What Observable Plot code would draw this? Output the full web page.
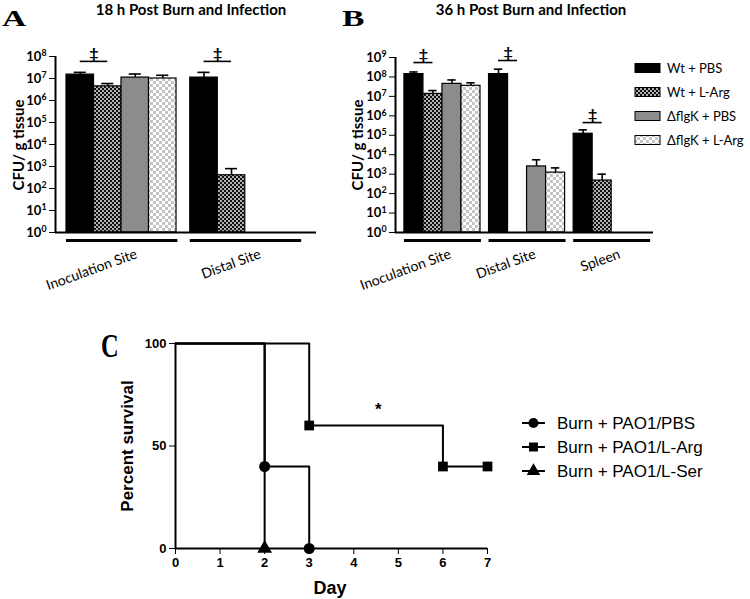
<!DOCTYPE html>
<html><head><meta charset="utf-8">
<script src="https://cdn.jsdelivr.net/npm/d3@7"></script>
<script src="https://cdn.jsdelivr.net/npm/@observablehq/plot@0.6"></script>
<style>
body{margin:0;background:#fff;}
#root{position:relative;width:750px;height:599px;overflow:hidden;font-family:Lato,"Open Sans",sans-serif;color:#000;}
#root svg{overflow:visible;}
.abs{position:absolute;white-space:nowrap;line-height:1;}
.letter{font-family:"Liberation Serif","DejaVu Serif",serif;font-weight:bold;}
.title{font-weight:bold;font-size:15px;transform:translate(-50%,-50%);}
.ylab{font-weight:bold;font-size:15px;transform:translate(-50%,-50%) rotate(-90deg);}
.legB{font-size:13px;display:flex;align-items:center;}
.legC{font-family:"Liberation Sans",Arial,sans-serif;font-size:17px;display:flex;align-items:center;}
</style></head><body>
<svg width="0" height="0" style="position:absolute"><defs>
<pattern id="darkChk" width="4" height="4" patternUnits="userSpaceOnUse"><rect width="4" height="4" fill="#111"/><rect width="2" height="2" fill="#b0b0b0"/><rect x="2" y="2" width="2" height="2" fill="#b0b0b0"/></pattern>
<pattern id="lightChk" width="6" height="6" patternUnits="userSpaceOnUse"><rect width="6" height="6" fill="#fff"/><rect width="3" height="3" fill="#c4c4c4"/><rect x="3" y="3" width="3" height="3" fill="#c4c4c4"/></pattern>
</defs></svg>
<div id="root"></div>
<script>
// ---------- data ----------
const series = ["Wt + PBS", "Wt + L-Arg", "ΔflgK + PBS", "ΔflgK + L-Arg"];
const seriesFill = ["#000", "url(#darkChk)", "#8c8c8c", "url(#lightChk)"];

const sitesA = ["Inoculation Site", "Distal Site"];
const cfuA = [[1.5e7, 4.4e6, 1.1e7, 1.0e7], [1.1e7, 400, 0, 0]];
const errA = [[1.9e7, 5.9e6, 1.6e7, 1.4e7], [1.9e7, 800, 0, 0]];
const sigA = [6e7, 6e7];
const decadesA = [0, 1, 2, 3, 4, 5, 6, 7, 8];

const sitesB = ["Inoculation Site", "Distal Site", "Spleen"];
const cfuB = [[1.4e8, 1.35e7, 4.4e7, 3.5e7], [1.4e8, 0, 2500, 1200], [1.2e5, 470, 0, 0]];
const errB = [[1.8e8, 2.0e7, 7.0e7, 5.0e7], [2.5e8, 0, 5500, 2100], [1.9e5, 1000, 0, 0]];
const sigB = [5.5e8, 7e8, 4.5e5];
const decadesB = [0, 1, 2, 3, 4, 5, 6, 7, 8, 9];

const survGroups = ["Burn + PAO1/PBS", "Burn + PAO1/L-Arg", "Burn + PAO1/L-Ser"];
const survDays = [[0, 2, 3], [0, 3, 6, 7], [0, 2]];
const survPct = [[100, 40, 0], [100, 60, 40, 40], [100, 0]];
const survSymbols = ["circle", "square", "triangle"];
const dayTicks = [0, 1, 2, 3, 4, 5, 6, 7];
const pctTicks = [0, 50, 100];
const starDay = 4.55, starPct = 68;

// ---------- helpers ----------
const root = document.getElementById("root");
function place(el, left, top) {
  el.style.position = "absolute"; el.style.left = left + "px"; el.style.top = top + "px";
  el.style.overflow = "visible";
  root.appendChild(el); return el;
}
function html(cls, text, left, top, extra) {
  const d = document.createElement("div");
  d.className = "abs " + cls; d.textContent = text;
  d.style.left = left + "px"; d.style.top = top + "px";
  if (extra) Object.assign(d.style, extra);
  root.appendChild(d); return d;
}
function supify(svg) {
  d3.select(svg).selectAll("text").each(function () {
    const m = /^10\^(\d+)$/.exec(this.textContent);
    if (m) {
      const s = d3.select(this); s.text("10");
      s.append("tspan").attr("dy", "-0.5em").attr("font-size", "0.68em").text(m[1]);
    }
  });
}

function barPanel(c) {
  const step = series.length + c.gap;
  const rows = [];
  c.sites.forEach((site, g) => series.forEach((s, i) => {
    const x1 = g * step + i;
    rows.push({site, series: s, x1, x2: x1 + 1, xc: x1 + 0.5, v: c.cfu[g][i], e: c.err[g][i]});
  }));
  const bars = rows.filter(d => d.v > 0);
  const groups = c.sites.map((site, g) => ({site, x1: g * step, x2: g * step + series.length + 0.05, xc: g * step + series.length / 2}));
  const sigs = c.sites.map((site, g) => ({x1: g * step + 0.5, x2: g * step + 1.5, xc: g * step + 1, y: c.sig[g]}));
  const yMax = 10 ** c.decades[c.decades.length - 1];
  const svg = Plot.plot({
    width: c.W, height: c.H, marginLeft: c.mL, marginTop: c.mT, marginRight: c.mR, marginBottom: c.mB,
    style: {background: "transparent", fontFamily: "Lato, sans-serif", fontSize: "13px", fontWeight: "bold", color: "#000", overflow: "visible"},
    x: {domain: [c.xMin, c.xMax], axis: null},
    y: {type: "log", domain: [1, yMax], ticks: c.decades.map(k => 10 ** k),
        tickFormat: d => "10^" + Math.round(Math.log10(d)), tickSize: 6, tickPadding: 3, label: null},
    color: {domain: series, range: seriesFill},
    marks: [
      Plot.rectY(bars, {x1: "x1", x2: "x2", y1: 1, y2: "v", fill: "series", stroke: "#000", strokeWidth: 1.2}),
      Plot.ruleX(bars, {x: "xc", y1: "v", y2: "e", stroke: "#000", strokeWidth: 1.6}),
      Plot.ruleY(bars, {y: "e", x1: d => d.xc - 0.22, x2: d => d.xc + 0.22, stroke: "#000", strokeWidth: 1.6}),
      Plot.ruleX([c.xMin], {stroke: "#000", strokeWidth: 2}),
      Plot.ruleY([1], {stroke: "#000", strokeWidth: 2}),
      Plot.ruleY(groups, {y: 1, x1: "x1", x2: "x2", dy: 8, stroke: "#000", strokeWidth: 3}),
      Plot.text(groups, {x: "xc", y: 1, text: "site", rotate: -20, textAnchor: "end", dx: c.labelDx, dy: 21,
        fontSize: 14, fontWeight: "normal"}),
      Plot.ruleY(sigs, {y: "y", x1: "x1", x2: "x2", stroke: "#000", strokeWidth: 1.6}),
      Plot.text(sigs, {x: "xc", y: "y", text: () => "‡", dy: -8, fontSize: 16, fontWeight: "bold"})
    ]
  });
  supify(svg);
  return svg;
}

// ---------- panel A ----------
place(barPanel({sites: sitesA, cfu: cfuA, err: errA, sig: sigA, decades: decadesA, gap: 0.5,
  xMin: -0.4, xMax: 9.09, W: 340, H: 280, mL: 55, mT: 56, mR: 24, mB: 48, labelDx: 15}), 0, 0);
// ---------- panel B ----------
place(barPanel({sites: sitesB, cfu: cfuB, err: errB, sig: sigB, decades: decadesB, gap: 0.45,
  xMin: -0.47, xMax: 13.1, W: 410, H: 280, mL: 55, mT: 57, mR: 97, mB: 48, labelDx: 8}), 340, 0);

html("letter", "A", 2, 6, {fontSize: "24px", transform: "scaleX(1.4)", transformOrigin: "left top"});
html("letter", "B", 342, 6, {fontSize: "24px", transform: "scaleX(1.4)", transformOrigin: "left top"});
html("title", "18 h Post Burn and Infection", 191, 9);
html("title", "36 h Post Burn and Infection", 531, 9);
html("ylab", "CFU/ g tissue", 18, 145);
html("ylab", "CFU/ g tissue", 357, 145);

// legend B
series.forEach((s, i) => {
  const row = document.createElement("div");
  row.className = "abs legB";
  row.style.left = "634px"; row.style.top = (60 + i * 24) + "px"; row.style.height = "16px";
  const sw = d3.create("svg").attr("width", 28).attr("height", 12);
  sw.append("rect").attr("x", 1).attr("y", 1.5).attr("width", 25).attr("height", 9)
    .attr("fill", seriesFill[i]).attr("stroke", "#000").attr("stroke-width", 1);
  row.appendChild(sw.node());
  const t = document.createElement("span"); t.textContent = s; t.style.marginLeft = "5px";
  row.appendChild(t);
  root.appendChild(row);
});

// ---------- panel C ----------
const survRows = [];
survGroups.forEach((g, i) => survDays[i].forEach((d, j) => survRows.push({group: g, day: d, pct: survPct[i][j], j})));
const svgC = Plot.plot({
  width: 400, height: 299, marginLeft: 75, marginRight: 13, marginTop: 43, marginBottom: 51,
  style: {background: "transparent", fontFamily: "'Liberation Sans', Arial, sans-serif", fontSize: "13px", fontWeight: "bold", color: "#000", overflow: "visible"},
  x: {domain: [0, 7], ticks: dayTicks, tickFormat: d => String(d), tickSize: 6, tickPadding: 3, label: null},
  y: {domain: [0, 100], ticks: pctTicks, tickFormat: d => String(d), tickSize: 6, tickPadding: 3, label: null},
  symbol: {domain: survGroups, range: survSymbols},
  marks: [
    Plot.ruleX([0], {stroke: "#000", strokeWidth: 2}),
    Plot.ruleY([0], {stroke: "#000", strokeWidth: 2}),
    Plot.line(survRows, {x: "day", y: "pct", z: "group", curve: "step-after", stroke: "#000", strokeWidth: 2}),
    Plot.dot(survRows.filter(d => d.j > 0), {x: "day", y: "pct", symbol: "group", fill: "#000", stroke: "none", r: 5.5}),
    Plot.text(["*"], {x: starDay, y: starPct, text: d => d, fontSize: 17, fontWeight: "bold"})
  ]
});
place(svgC, 100, 300);
html("letter", "C", 101, 329, {fontSize: "34px", transform: "scaleX(0.72)", transformOrigin: "left top"});
html("ylab", "Percent survival", 127, 446, {fontFamily: "'Liberation Sans', Arial, sans-serif", fontSize: "17px"});
html("title", "Day", 330, 588, {fontFamily: "'Liberation Sans', Arial, sans-serif", fontSize: "18px"});

// legend C
survGroups.forEach((g, i) => {
  const row = document.createElement("div");
  row.className = "abs legC";
  row.style.left = "520px"; row.style.top = (413 + i * 24) + "px"; row.style.height = "20px";
  const sw = d3.create("svg").attr("width", 28).attr("height", 20);
  sw.append("line").attr("x1", 2).attr("x2", 25).attr("y1", 10).attr("y2", 10).attr("stroke", "#000").attr("stroke-width", 2);
  sw.append("path").attr("transform", "translate(13.5,10)").attr("fill", "#000")
    .attr("d", d3.symbol(survSymbols[i] === "circle" ? d3.symbolCircle : survSymbols[i] === "square" ? d3.symbolSquare : d3.symbolTriangle, 80)());
  row.appendChild(sw.node());
  const t = document.createElement("span"); t.textContent = g; t.style.marginLeft = "9px";
  row.appendChild(t);
  root.appendChild(row);
});
</script>
</body></html>
